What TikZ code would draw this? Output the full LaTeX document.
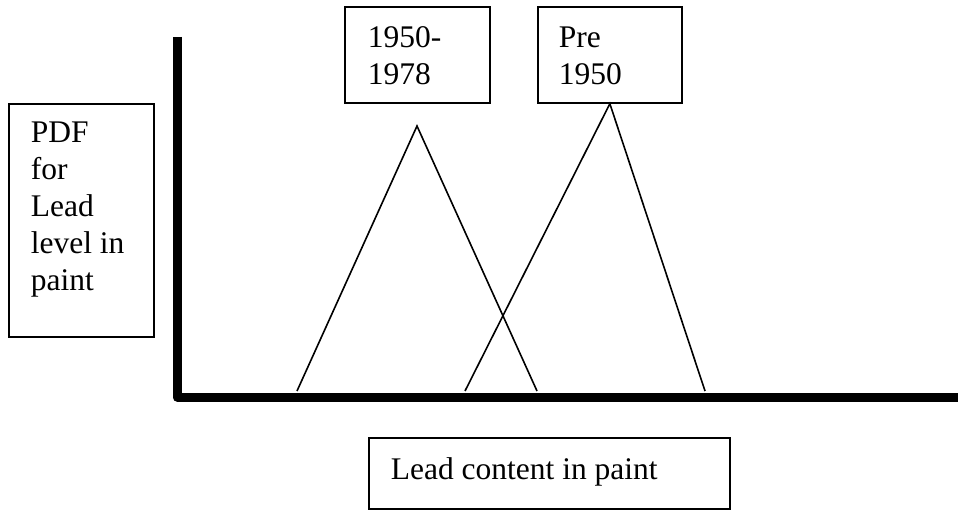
\documentclass[tikz,border=0pt]{standalone}
\usepackage{fontspec}
\setmainfont{Liberation Serif}
\usetikzlibrary{positioning}

\begin{document}
\begin{tikzpicture}[x=1pt, y=-1pt, line width=1.7pt,
    frame/.style={draw, rectangle, inner sep=0pt, anchor=north west},
    boxtext/.style={anchor=base west, align=left, inner sep=0pt, font=\fontsize{31.5}{37}\selectfont}]
            \useasboundingbox (0,0) rectangle (958,510);

            % Axes
            \coordinate (ytop) at (177,37);
            \coordinate (origin) at (177,397);
            \coordinate (xend) at (958,397);
            \draw[line width=9pt, line join=round] (ytop) -- (origin) -- (xend);

            % Label boxes (text placed at the baseline of its last line)
            \node[frame, minimum width=145pt, minimum height=233pt] (pdfbox) at (8,103) {};
            \node[boxtext] (pdftext) at (30,291) {PDF\\for\\Lead\\level in\\paint};

            \node[frame, minimum width=145pt, minimum height=96pt] (newbox) at (344,6) {};
            \node[boxtext] (newtext) at (367,85) {1950-\\1978};

            \node[frame, minimum width=144pt, minimum height=96pt] (prebox) at (537,6) {};
            \node[boxtext] (pretext) at (558,85) {Pre\\1950};

            \node[frame, minimum width=361pt, minimum height=71pt] (leadbox) at (368,437) {};
            \node[boxtext] (leadtext) at (390,479) {Lead content in paint};

            % Distributions
            \coordinate (l1) at (297,391);
            \coordinate (p1) at (417,126);
            \coordinate (r1) at (537,391);
            \coordinate (l2) at (465,391);
            \coordinate (r2) at (705,391);
            \draw[line width=1.6pt] (l1) -- (p1) -- (r1);
            \draw[line width=1.6pt] (l2) -- (prebox.south) -- (r2);
        \end{tikzpicture}
\end{document}
